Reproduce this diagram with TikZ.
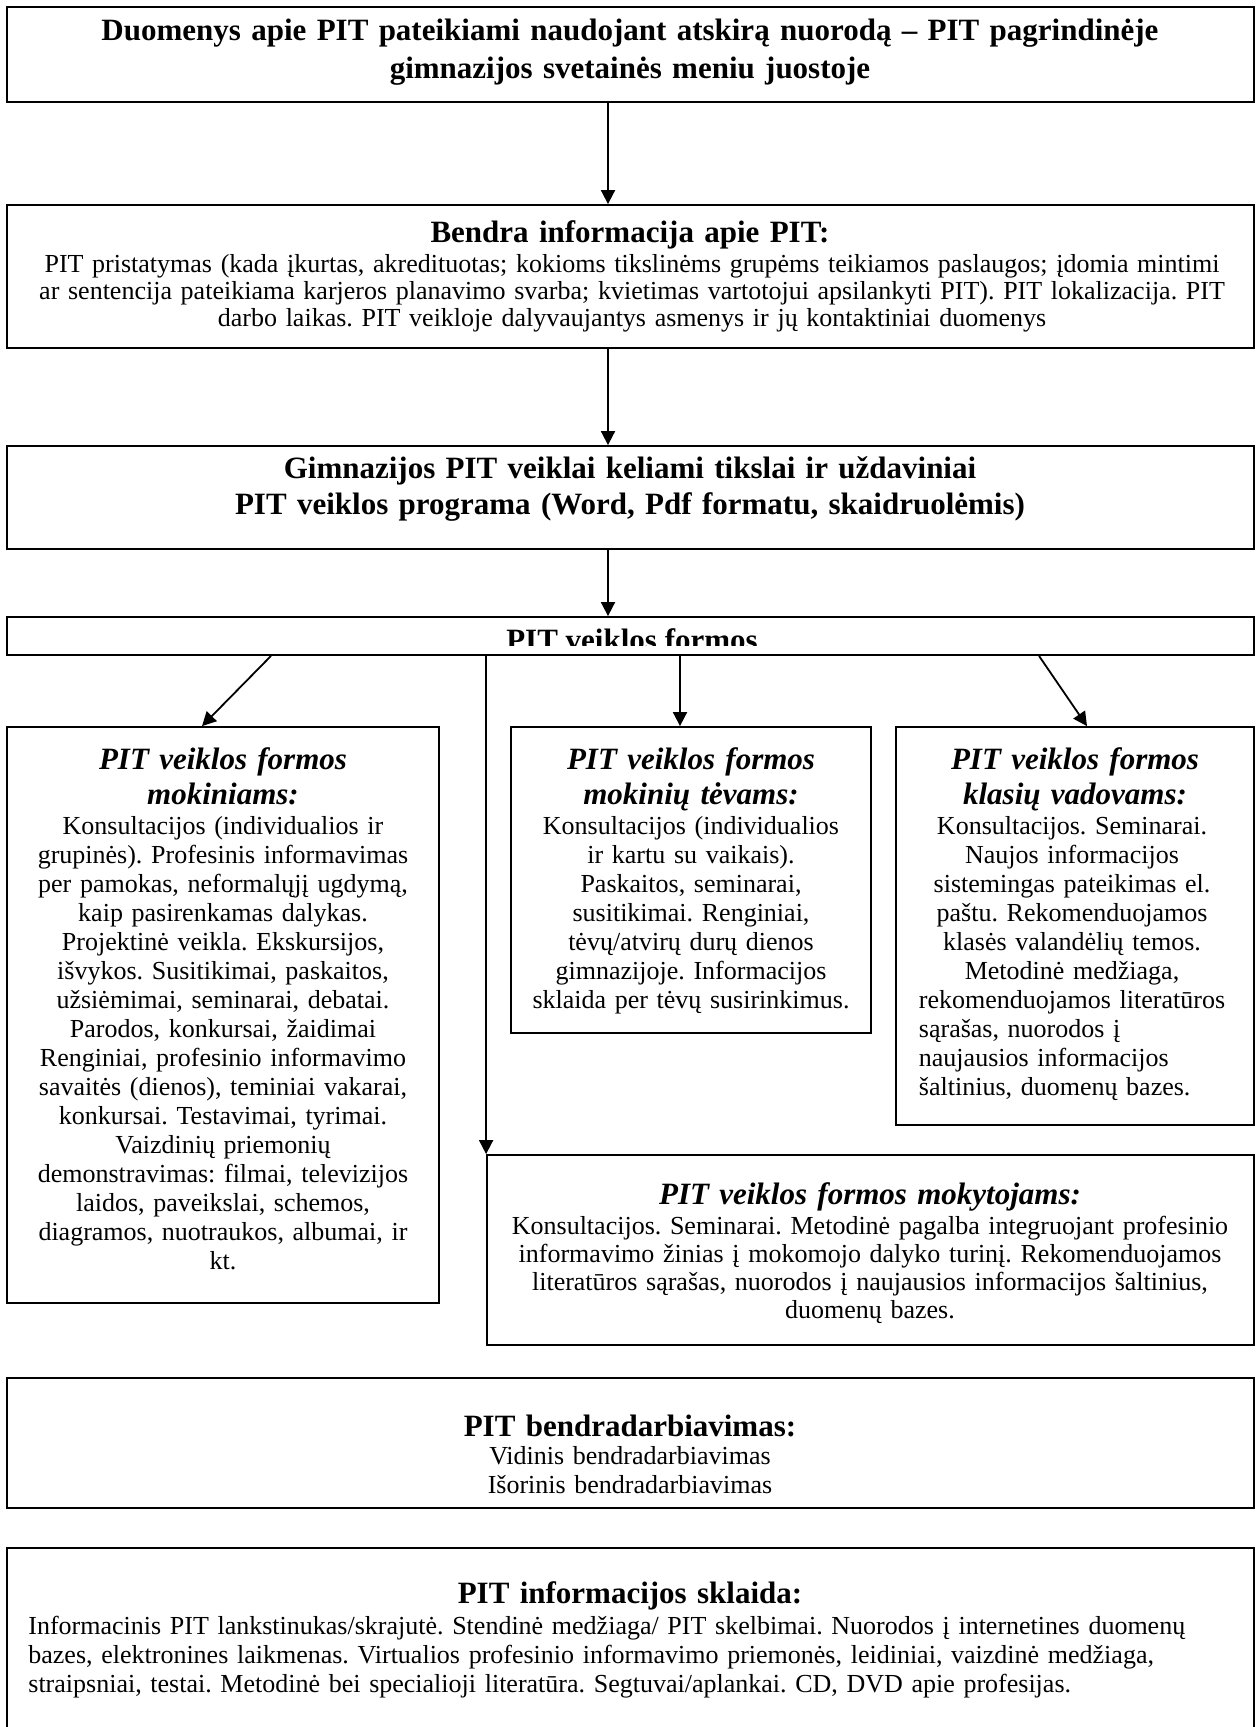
\documentclass[tikz,border=0pt]{standalone}
\usepackage{fontspec}
\setmainfont{Liberation Serif}
\usepackage{calc}
\usetikzlibrary{positioning, fit, calc, arrows.meta}
\frenchspacing

\tikzset{
  frame/.style={draw, line width=0.9pt, inner sep=0pt},
  ttl/.style={font=\bfseries\fontsize{15.5}{17.5}\selectfont, align=center, anchor=base, inner sep=0pt},
  hdg/.style={font=\bfseries\itshape\fontsize{15.5}{17.5}\selectfont, align=center, anchor=base, inner sep=0pt},
  txt/.style={font=\fontsize{13}{14.5}\selectfont, align=center, anchor=base, inner sep=0pt},
  arr/.style={-{Triangle[length=7pt,width=7pt]}, line width=0.9pt},
}

\begin{document}
\begin{tikzpicture}[x=0.5pt, y=-0.5pt]
\useasboundingbox (0,0) rectangle (1255,1727);

% frames
\node[frame, fit={(7,7) (1254,102)}] (top) {};
\node[frame, fit={(7,205) (1254,348)}] (info) {};
\node[frame, fit={(7,446) (1254,549)}] (goals) {};
\node[frame, fit={(7,617) (1254,655)}] (forms) {};
\node[frame, fit={(7,727) (439,1303)}] (stud) {};
\node[frame, fit={(511,727) (871,1033)}] (par) {};
\node[frame, fit={(896,727) (1254,1125)}] (cls) {};
\node[frame, fit={(487,1155) (1254,1345)}] (teach) {};
\node[frame, fit={(7,1378) (1254,1508)}] (coop) {};
\node[frame, fit={(7,1548) (1254,1760)}] (spread) {};

% texts
\node[ttl, text width=620pt, font=\bfseries\fontsize{15.5}{19}\selectfont] (topttl) at (630,41) {Duomenys apie PIT pateikiami naudojant atskirą nuorodą – PIT pagrindinėje\\ gimnazijos svetainės meniu juostoje};

\node[ttl, text width=620pt] (infottl) at (630,243) {Bendra informacija apie PIT:};
\node[txt, text width=620pt, font=\fontsize{13}{13.5}\selectfont] (infotxt) at (632,273) {PIT pristatymas (kada įkurtas, akredituotas; kokioms tikslinėms grupėms teikiamos paslaugos; įdomia mintimi\\
ar sentencija pateikiama karjeros planavimo svarba; kvietimas vartotojui apsilankyti PIT). PIT lokalizacija. PIT\\
darbo laikas. PIT veikloje dalyvaujantys asmenys ir jų kontaktiniai duomenys};

\node[ttl, text width=620pt] (goalsttl) at (630,479) {Gimnazijos PIT veiklai keliami tikslai ir uždaviniai\\ PIT veiklos programa (Word, Pdf formatu, skaidruolėmis)};

\begin{scope}
  \clip (7,617) rectangle (1254,645);
  \node[ttl] (formsttl) at (632,650) {PIT veiklos formos};
\end{scope}

\node[hdg, text width=216pt] (studhdg) at (223,769) {PIT veiklos formos\\ mokiniams:};
\node[txt, text width=216pt] (studtxt) at (223,834) {Konsultacijos (individualios ir\\
grupinės). Profesinis informavimas\\
per pamokas, neformalųjį ugdymą,\\
kaip pasirenkamas dalykas.\\
Projektinė veikla. Ekskursijos,\\
išvykos. Susitikimai, paskaitos,\\
užsiėmimai, seminarai, debatai.\\
Parodos, konkursai, žaidimai\\
Renginiai, profesinio informavimo\\
savaitės (dienos), teminiai vakarai,\\
konkursai. Testavimai, tyrimai.\\
Vaizdinių priemonių\\
demonstravimas: filmai, televizijos\\
laidos, paveikslai, schemos,\\
diagramos, nuotraukos, albumai, ir\\
kt.};

\node[hdg, text width=180pt] (parhdg) at (691,769) {PIT veiklos formos\\ mokinių tėvams:};
\node[txt, text width=180pt] (partxt) at (691,834) {Konsultacijos (individualios\\
ir kartu su vaikais).\\
Paskaitos, seminarai,\\
susitikimai. Renginiai,\\
tėvų/atvirų durų dienos\\
gimnazijoje. Informacijos\\
sklaida per tėvų susirinkimus.};

\node[hdg, text width=179pt] (clshdg) at (1075,769) {PIT veiklos formos\\ klasių vadovams:};
\node[txt, text width=179pt] (clstxt) at (1072,834) {Konsultacijos. Seminarai.\\
Naujos informacijos\\
sistemingas pateikimas el.\\
paštu. Rekomenduojamos\\
klasės valandėlių temos.\\
Metodinė medžiaga,\\
rekomenduojamos literatūros\\
\makebox[\widthof{rekomenduojamos literatūros}][l]{sąrašas, nuorodos į}\\
\makebox[\widthof{rekomenduojamos literatūros}][l]{naujausios informacijos}\\
\makebox[\widthof{rekomenduojamos literatūros}][l]{šaltinius, duomenų bazes.}};

\node[hdg, text width=380pt] (teachhdg) at (870,1204) {PIT veiklos formos mokytojams:};
\node[txt, text width=380pt, font=\fontsize{13}{14}\selectfont] (teachtxt) at (870,1234) {Konsultacijos. Seminarai. Metodinė pagalba integruojant profesinio\\
informavimo žinias į mokomojo dalyko turinį. Rekomenduojamos\\
literatūros sąrašas, nuorodos į naujausios informacijos šaltinius,\\
duomenų bazes.};

\node[ttl, text width=620pt] (coopttl) at (630,1436) {PIT bendradarbiavimas:};
\node[txt, text width=620pt] (cooptxt) at (630,1464) {Vidinis bendradarbiavimas\\ Išorinis bendradarbiavimas};

\node[ttl, text width=620pt] (spreadttl) at (630,1603) {PIT informacijos sklaida:};
\node[txt, text width=600pt, align=left, anchor=base west] (spreadtxt) at (28,1634) {Informacinis PIT lankstinukas/skrajutė. Stendinė medžiaga/ PIT skelbimai. Nuorodos į internetines duomenų\\
bazes, elektronines laikmenas. Virtualios profesinio informavimo priemonės, leidiniai, vaizdinė medžiaga,\\
straipsniai, testai. Metodinė bei specialioji literatūra. Segtuvai/aplankai. CD, DVD apie profesijas.};

% connectors
\coordinate (spine) at (608,0);
\foreach \n/\x in {u1/271, u3/680, u4/1039, d1/202, d4/1087}
  \coordinate (\n) at (\x,0);

\draw[arr] (top.south -| spine) -- (info.north -| spine);
\draw[arr] (info.south -| spine) -- (goals.north -| spine);
\draw[arr] (goals.south -| spine) -- (forms.north -| spine);
\draw[arr] (forms.south -| u1) -- (stud.north -| d1);
\draw[arr] (forms.south -| teach.north west) -- (teach.north west);
\draw[arr] (forms.south -| u3) -- (par.north -| u3);
\draw[arr] (forms.south -| u4) -- (cls.north -| d4);
\end{tikzpicture}
\end{document}
